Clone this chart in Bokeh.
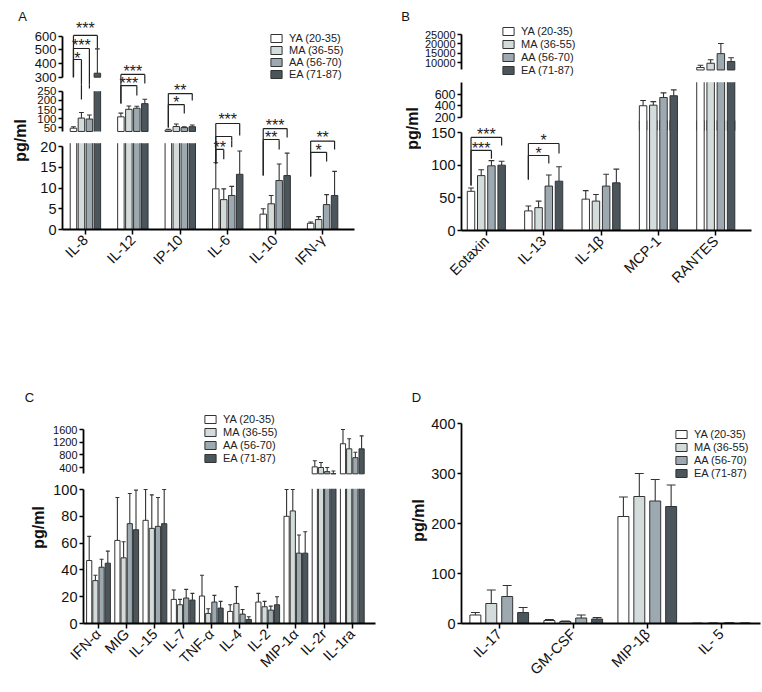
import math
from bokeh.plotting import figure
from bokeh.layouts import row, column
from bokeh.models import Range1d, FixedTicker, Legend, LegendItem, Label, ColumnDataSource
from bokeh.embed import file_html
from bokeh.resources import INLINE
from bokeh.core.properties import value

FONT = "Liberation Sans"
INF = float("inf")
NAN = float("nan")
OUT = "#333333"

series = ["YA (20-35)", "MA (36-55)", "AA (56-70)", "EA (71-87)"]
colors = ["#ffffff", "#d3dbdb", "#9ca9b0", "#4a555c"]

# ---------------- Panel A data ----------------
cats_a = ["IL-8", "IL-12", "IP-10", "IL-6", "IL-10", "IFN-γ"]
a_ya = [48, 110, 38, 9.8, 3.7, 1.5]
a_ma = [103, 151, 57, 7.2, 6.2, 2.4]
a_aa = [98, 157, 51, 8.2, 11.8, 6.0]
a_ea = [329, 182, 56, 13.3, 13.0, 8.2]
a_ya_sd = [8, 20, 4, 6.3, 1.3, 0.3]
a_ma_sd = [31, 18, 14, 2.6, 2.0, 0.7]
a_aa_sd = [22, 11, 4, 2.2, 4.0, 2.4]
a_ea_sd = [177, 24, 9, 5.6, 5.4, 5.8]
ticks_a_top = [300, 400, 500, 600]
ticks_a_mid = [50, 100, 150, 200, 250]
ticks_a_bot = [0, 5, 10, 15, 20]
# (category, series i, series j, line(seg,val), stars(seg,val), label, left leg end, right leg end)
brackets_a = [
    (0, 0, 3, (0, 604), (0, 676), "***", (0, 300), (0, 509)),
    (0, 0, 2, (0, 509), (0, 553), "***", (0, 300), (1, 265)),
    (0, 0, 1, (0, 429), (0, 458), "*", (0, 300), (1, 205)),
    (1, 0, 3, (0, 320), (0, 363), "***", (1, 183), (0, 254)),
    (1, 0, 2, (1, 281), (0, 276), "***", (1, 183), (1, 226)),
    (2, 0, 3, (1, 237), (1, 270), "**", (1, 52), (1, 199)),
    (2, 0, 2, (1, 177), (1, 205), "*", (1, 52), (1, 128)),
    (3, 0, 3, (1, 73.5), (1, 112), "***", (2, 15.9), (1, 8)),
    (3, 0, 2, (1, 2.5), None, "", (2, 15.9), (2, 19.8)),
    (3, 0, 1, (2, 19.3), (2, 20.5), "**", (2, 15.9), (2, 16.9)),
    (4, 0, 3, (1, 46), (1, 79), "***", (2, 13.0), (1, -3)),
    (4, 0, 2, (1, -14), (1, 13), "**", (2, 13.0), (2, 19.3)),
    (5, 0, 3, (2, 21.3), (1, 13), "**", (2, 12.8), (2, 19.3)),
    (5, 0, 2, (2, 18.6), (2, 19.8), "*", (2, 12.8), (2, 16.4)),
]

# ---------------- Panel B data ----------------
cats_b = ["Eotaxin", "IL-13", "IL-1β", "MCP-1", "RANTES"]
b_ya = [60, 30, 48, 400, 7300]
b_ma = [84, 35, 45, 410, 9600]
b_aa = [99, 68, 68, 540, 14750]
b_ea = [100, 75.5, 73, 570, 10550]
b_ya_sd = [5, 7.5, 13, 90, 1250]
b_ma_sd = [9, 10, 10, 60, 1850]
b_aa_sd = [8, 17, 18, 80, 5450]
b_ea_sd = [6, 22, 21, 100, 2000]
ticks_b_top = [10000, 15000, 20000, 25000]
ticks_b_mid = [200, 400, 600]
ticks_b_bot = [0, 50, 100, 150]
brackets_b = [
    (0, 0, 3, (2, 142.4), (2, 151.6), "***", (2, 69), (2, 130)),
    (0, 0, 2, (2, 122.5), (2, 130.1), "***", (2, 69), (2, 110)),
    (1, 0, 3, (2, 133.2), (2, 142.4), "*", (2, 78), (2, 118)),
    (1, 0, 2, (2, 114.8), (2, 122.5), "*", (2, 78), (2, 102.6)),
]

# ---------------- Panel C data ----------------
cats_c = ["IFN-α", "MIG", "IL-15", "IL-7", "TNF-α", "IL-4", "IL-2", "MIP-1α", "IL-2r", "IL-1ra"]
c_ya = [47, 62, 77, 18, 20.5, 9, 16, 80, 420, 1150]
c_ma = [32, 49, 71, 14, 7.5, 15, 12.5, 84, 400, 990]
c_aa = [42, 74.5, 72.5, 19, 16, 7, 10, 52.5, 270, 710]
c_ea = [45, 70, 74.5, 17.5, 11.5, 3, 14, 52.5, 205, 990]
c_ya_sd = [18, 32, 25, 7, 15.5, 5, 6.5, 25, 195, 450]
c_ma_sd = [4, 12, 25, 4, 3.5, 12.5, 4, 25, 160, 320]
c_aa_sd = [6, 22.5, 21.5, 6.5, 5, 3.5, 3, 13.5, 130, 170]
c_ea_sd = [9, 29.5, 30, 5, 5, 2, 6, 16, 85, 410]
ticks_c_top = [400, 800, 1200, 1600]
ticks_c_bot = [0, 20, 40, 60, 80, 100]

# ---------------- Panel D data ----------------
cats_d = ["IL-17", "GM-CSF", "MIP-1β", "IL- 5"]
d_ya = [17, 6, 214, 0.4]
d_ma = [40, 4, 254, 0.5]
d_aa = [54, 11, 245, 0.8]
d_ea = [22, 9, 234, 0.7]
d_ya_sd = [5, 2, 39, 0.2]
d_ma_sd = [27, 1, 46, 0.3]
d_aa_sd = [22, 6, 43, 0.4]
d_ea_sd = [10, 3, 43, 0.3]
ticks_d = [0, 100, 200, 300, 400]


def lin(seg, y):
    (v1, y1), (v2, y2) = seg["a1"], seg["a2"]
    return v1 + (y - y1) * (v2 - v1) / (y2 - y1)


def style_yaxis(ax, seg):
    ax.ticker = FixedTicker(ticks=seg["ticks"])
    ax.bounds = seg["bounds"]
    ax.minor_tick_line_color = None
    ax.major_tick_in = 0
    ax.major_tick_out = 4
    ax.major_label_standoff = 2
    ax.axis_line_width = 1.8
    ax.axis_line_color = "black"
    ax.major_tick_line_width = 1.5
    ax.major_tick_line_color = "black"
    ax.major_label_text_font = FONT
    ax.major_label_text_font_size = seg["fs"]
    ax.major_label_text_color = "#111111"


def base_fig(P, H, ytop, ybot, yr, xr, xaxis, yaxis=True):
    return figure(width=P["fw"], height=H, x_range=xr, y_range=yr, title=None,
                  x_axis_location="below" if xaxis else None,
                  y_axis_location="left" if yaxis else None,
                  toolbar_location=None, output_backend="svg",
                  min_border_left=P["axis_x"] - P["fx0"],
                  min_border_right=P["fx0"] + P["fw"] - P["fr"],
                  min_border_top=int(round(ytop - P["top"])),
                  min_border_bottom=int(round(P["bottom"] - ybot)),
                  outline_line_color=None, background_fill_color=None,
                  border_fill_color=None)


def build_panel(P):
    cats = P["cats"]
    means, sds = P["means"], P["sds"]
    segs = P["segs"]
    nseg = len(segs)
    H = int(round(P["bottom"] - P["top"]))
    xr = Range1d(*P["xr"])
    bw = P["bw"]
    figs, bar_rs = [], []
    for si, seg in enumerate(segs):
        last = si == nseg - 1
        ftop, fbot = seg["ftop"], seg["fbot"]
        p = base_fig(P, H, ftop, fbot, Range1d(lin(seg, fbot), lin(seg, ftop)), xr, last)
        p.grid.visible = False
        style_yaxis(p.yaxis[0], seg)
        if last:
            xa = p.xaxis[0]
            xa.ticker = FixedTicker(ticks=list(range(len(cats))))
            xa.major_label_overrides = {i: c for i, c in enumerate(cats)}
            xa.major_label_orientation = math.pi / 4
            xa.minor_tick_line_color = None
            xa.major_tick_in = 0
            xa.major_tick_out = 5
            xa.axis_line_width = 1.8
            xa.axis_line_color = "black"
            xa.major_tick_line_width = 1.5
            xa.major_tick_line_color = "black"
            xa.major_label_text_font = FONT
            xa.major_label_text_font_size = "14.5px"
            xa.major_label_text_color = "#111111"
            xa.major_label_standoff = 3
        lo, hi = seg["band"]
        rs = []
        for j in range(4):
            closed = dict(x=[], top=[], bottom=[])
            cont = dict(x=[], top=[], bottom=[])
            sides = dict(x=[], y0=[], y1=[])
            ex, ey0, ey1, exl, exr = [], [], [], [], []
            for i, v in enumerate(means[j]):
                x = i + (j - 1.5) * P["pitch"]
                if v > lo:
                    top = min(v, seg["cap"])
                    if v < seg["edge"]:
                        closed["x"].append(x); closed["top"].append(top)
                        closed["bottom"].append(seg["bar_lo"])
                    else:
                        # bar continues past the break: fill plus side lines only
                        cont["x"].append(x); cont["top"].append(top)
                        cont["bottom"].append(seg["bar_lo"])
                        for dx in (-bw / 2, bw / 2):
                            sides["x"].append(x + dx); sides["y0"].append(seg["bar_lo"])
                            sides["y1"].append(top)
                if lo < v <= hi:
                    t = min(v + sds[j][i], seg["ecap"])
                    ex.append(x); ey0.append(v); ey1.append(t)
                    exl.append(x - P["capw"]); exr.append(x + P["capw"])
            if not closed["x"]:
                closed = dict(x=[0.0], top=[NAN], bottom=[NAN])
            r = p.vbar(x="x", width=bw, top="top", bottom="bottom",
                       source=ColumnDataSource(closed),
                       fill_color=colors[j], line_color=OUT, line_width=1)
            rs.append(r)
            if cont["x"]:
                p.vbar(x="x", width=bw, top="top", bottom="bottom",
                       source=ColumnDataSource(cont), fill_color=colors[j], line_color=None)
                p.segment(x0="x", y0="y0", x1="x", y1="y1", source=ColumnDataSource(sides),
                          line_color=OUT, line_width=1)
            es = ColumnDataSource(dict(x=ex, y0=ey0, y1=ey1, xl=exl, xr=exr))
            p.segment(x0="x", y0="y0", x1="x", y1="y1", source=es, line_color=OUT, line_width=1.1)
            p.segment(x0="xl", y0="y1", x1="xr", y1="y1", source=es, line_color=OUT, line_width=1.1)
        bar_rs.append(rs)
        figs.append(p)

    # legend
    L = P["legend"]
    items = [LegendItem(label=series[j], renderers=[bar_rs[L["seg"]][j]]) for j in range(4)]
    leg = Legend(items=items, location=L["loc"], orientation="vertical",
                 glyph_width=14, glyph_height=10, label_height=10, spacing=L["spacing"],
                 padding=0, margin=0, border_line_color=None, background_fill_alpha=0,
                 label_text_font=FONT, label_text_font_size="11px",
                 label_text_color="#222222", label_standoff=6)
    figs[L["seg"]].add_layout(leg)

    # annotation layer: full plot area, one y range per axis segment
    brackets = P.get("brackets", [])
    if brackets:
        full_top, full_bot = segs[0]["ftop"], segs[-1]["fbot"]
        names = ["default"] + ["s%d" % k for k in range(1, nseg)]
        an = base_fig(P, H, full_top, full_bot,
                      Range1d(lin(segs[0], full_bot), lin(segs[0], full_top)), xr, False, False)
        for k in range(1, nseg):
            an.extra_y_ranges[names[k]] = Range1d(lin(segs[k], full_bot), lin(segs[k], full_top))
        an.grid.visible = False
        lines = [dict(x0=[], y0=[], x1=[], y1=[]) for _ in segs]
        texts = [dict(x=[], y=[], t=[]) for _ in segs]

        def vleg(x, a, b):
            sa, va = a
            sb, vb = b
            for s in range(sa, sb + 1):
                yt = va if s == sa else lin(segs[s], segs[s]["ftop"])
                yb = vb if s == sb else lin(segs[s], segs[s]["fbot"])
                d = lines[s]
                d["x0"].append(x); d["x1"].append(x); d["y0"].append(yt); d["y1"].append(yb)

        for (c, i, j, ln, tp, lab, lb, rb) in brackets:
            xi = c + (i - 1.5) * P["pitch"]
            xj = c + (j - 1.5) * P["pitch"]
            d = lines[ln[0]]
            d["x0"].append(xi); d["x1"].append(xj); d["y0"].append(ln[1]); d["y1"].append(ln[1])
            vleg(xi, ln, lb)
            vleg(xj, ln, rb)
            if tp is not None and lab:
                t = texts[tp[0]]
                t["x"].append((xi + xj) / 2); t["y"].append(tp[1]); t["t"].append(lab)
        for s in range(nseg):
            if lines[s]["x0"]:
                an.segment(x0="x0", y0="y0", x1="x1", y1="y1", source=ColumnDataSource(lines[s]),
                           line_color="#222222", line_width=1.2, y_range_name=names[s])
            if texts[s]["x"]:
                an.text(x="x", y="y", text="t", source=ColumnDataSource(texts[s]),
                        text_font=value(FONT), text_font_size="16px", text_align="center",
                        text_baseline="middle", y_offset=3, text_color="#222222",
                        y_range_name=names[s])
        figs.append(an)

    # stack the layers on top of each other
    for f in figs[1:]:
        f.margin = (-H, 0, 0, 0)

    # strip with panel letter and y label
    sw = P["sw"]
    s = figure(width=sw, height=H, x_range=Range1d(0, sw), y_range=Range1d(0, H), title=None,
               x_axis_location=None, y_axis_location=None, toolbar_location=None,
               output_backend="svg", min_border=0, outline_line_color=None,
               background_fill_color=None, border_fill_color=None)
    s.grid.visible = False
    lx, ly = P["letter_xy"]
    s.add_layout(Label(x=lx - P["sx0"], y=H - (ly - P["top"]), text=P["letter"],
                       text_font=FONT, text_font_size="13px", text_align="center",
                       text_baseline="middle", text_color="#111111"))
    px, py = P["ylab_xy"]
    s.add_layout(Label(x=px - P["sx0"], y=H - (py - P["top"]), text="pg/ml",
                       text_font=FONT, text_font_size="16px", text_font_style="bold",
                       angle=math.pi / 2, text_align="center", text_baseline="middle",
                       text_color="#111111"))
    return row(s, column(*figs))


PA = dict(
    cats=cats_a, means=[a_ya, a_ma, a_aa, a_ea], sds=[a_ya_sd, a_ma_sd, a_aa_sd, a_ea_sd],
    top=0, bottom=330, sx0=0, sw=31, fx0=31, fw=349, axis_x=61, fr=354,
    xr=(-0.483, 5.672), pitch=0.168, bw=0.137, capw=0.05,
    letter="A", letter_xy=(22, 16), ylab_xy=(20, 140),
    segs=[
        dict(ftop=0, fbot=84, a1=(600, 35.5), a2=(300, 76.7), bounds=(300, 600), ticks=ticks_a_top,
             fs="13px", band=(300, INF), bar_lo=300, cap=INF, edge=INF, ecap=INF),
        dict(ftop=84, fbot=140, a1=(250, 90.7), a2=(50, 127.3), bounds=(30, 250), ticks=ticks_a_mid,
             fs="11.5px", band=(30, 250), bar_lo=30, cap=250, edge=250, ecap=250),
        dict(ftop=140, fbot=229, a1=(20, 146), a2=(0, 229), bounds=(0, 20), ticks=ticks_a_bot,
             fs="14.5px", band=(-INF, 20.8), bar_lo=0, cap=20.8, edge=20.8, ecap=20.8),
    ],
    brackets=brackets_a,
    legend=dict(seg=0, loc=(207, 4), spacing=0),
)

PB = dict(
    cats=cats_b, means=[b_ya, b_ma, b_aa, b_ea], sds=[b_ya_sd, b_ma_sd, b_aa_sd, b_ea_sd],
    top=0, bottom=330, sx0=380, sw=41, fx0=421, fw=341, axis_x=459, fr=751,
    xr=(-0.433, 4.623), pitch=0.178, bw=0.13, capw=0.05,
    letter="B", letter_xy=(405, 16), ylab_xy=(412, 128),
    segs=[
        dict(ftop=0, fbot=76, a1=(25000, 34), a2=(10000, 62), bounds=(6000, 25000), ticks=ticks_b_top,
             fs="11px", band=(6000, INF), bar_lo=6000, cap=INF, edge=INF, ecap=INF),
        dict(ftop=76, fbot=130, a1=(600, 93.5), a2=(200, 117), bounds=(200, 800), ticks=ticks_b_mid,
             fs="12.5px", band=(200, 800), bar_lo=-100, cap=800, edge=800, ecap=800),
        dict(ftop=120, fbot=230, a1=(150, 132), a2=(0, 230), bounds=(0, 150), ticks=ticks_b_bot,
             fs="14.5px", band=(-INF, 200), bar_lo=0, cap=INF, edge=150, ecap=INF),
    ],
    brackets=brackets_b,
    legend=dict(seg=0, loc=(40, 0), spacing=1),
)

PC = dict(
    cats=cats_c, means=[c_ya, c_ma, c_aa, c_ea], sds=[c_ya_sd, c_ma_sd, c_aa_sd, c_ea_sd],
    top=330, bottom=692, sx0=0, sw=48, fx0=48, fw=332, axis_x=83, fr=375,
    xr=(-0.532, 9.823), pitch=0.22, bw=0.184, capw=0.07,
    letter="C", letter_xy=(29, 397), ylab_xy=(38, 527),
    segs=[
        dict(ftop=330, fbot=481, a1=(1600, 429), a2=(400, 467), bounds=(200, 1600), ticks=ticks_c_top,
             fs="11px", band=(200, INF), bar_lo=200, cap=INF, edge=INF, ecap=INF),
        dict(ftop=481, fbot=623, a1=(100, 489), a2=(0, 623), bounds=(0, 100), ticks=ticks_c_bot,
             fs="14.5px", band=(-INF, 100.5), bar_lo=0, cap=100.5, edge=100.5, ecap=100),
    ],
    legend=dict(seg=0, loc=(120, 17), spacing=1),
)

PD = dict(
    cats=cats_d, means=[d_ya, d_ma, d_aa, d_ea], sds=[d_ya_sd, d_ma_sd, d_aa_sd, d_ea_sd],
    top=330, bottom=692, sx0=380, sw=48, fx0=428, fw=334, axis_x=459, fr=760,
    xr=(-0.510, 3.530), pitch=0.215, bw=0.148, capw=0.06,
    letter="D", letter_xy=(416, 397), ylab_xy=(418, 520),
    segs=[
        dict(ftop=330, fbot=623, a1=(400, 423), a2=(0, 623), bounds=(0, 400), ticks=ticks_d,
             fs="14.5px", band=(-INF, INF), bar_lo=0, cap=INF, edge=INF, ecap=INF),
    ],
    legend=dict(seg=0, loc=(213, 144), spacing=1),
)

root = column(row(build_panel(PA), build_panel(PB)), row(build_panel(PC), build_panel(PD)))

open("out.html", "w").write(file_html(root, INLINE, title="Cytokines"))
